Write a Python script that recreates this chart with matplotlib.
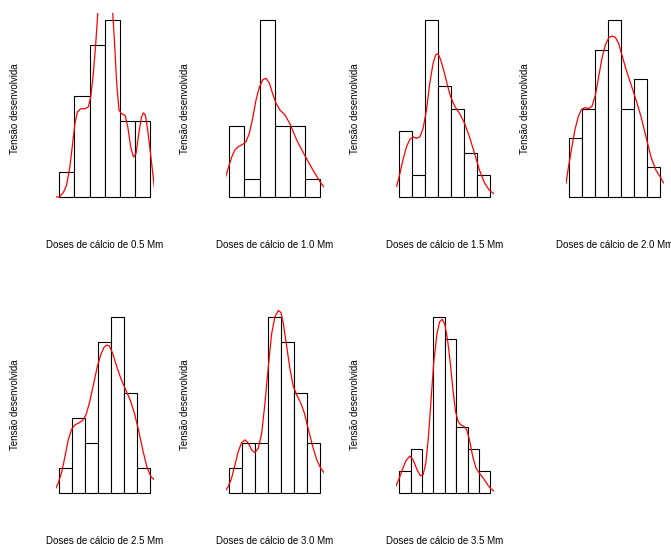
import numpy as np
import matplotlib
matplotlib.use("Agg")
import matplotlib.pyplot as plt

plt.rcParams['font.family'] = ['Liberation Sans', 'DejaVu Sans']

doses = ["0.5", "1.0", "1.5", "2.0", "2.5", "3.0", "3.5"]

# histogram counts per dose (x in bin units, one unit per bin)
counts_05 = [1, 4, 6, 7, 3, 3]
counts_10 = [4, 1, 10, 4, 4, 1]
counts_15 = [3, 1, 8, 5, 4, 2, 1]
counts_20 = [2, 3, 5, 6, 3, 4, 1]
counts_25 = [1, 3, 2, 6, 7, 4, 1]
counts_30 = [1, 2, 2, 7, 6, 4, 2]
counts_35 = [1, 2, 0, 8, 7, 3, 2, 1]

# density curves (same units as the bars)
dx_05 = [-0.3, 0, 0.26, 0.48, 0.70, 0.88, 1.03, 1.19, 1.41, 1.69, 1.91, 2.07, 2.24, 2.40, 2.53,
         3.01, 3.52, 3.63, 3.78, 3.93, 4.11, 4.33, 4.51, 4.70, 4.88, 5.05, 5.23, 5.41, 5.54,
         5.67, 5.82, 5.98, 6.13, 6.26, 6.35]
dy_05 = [0.0, 0.0, 0.16, 0.46, 1.19, 2.11, 2.90, 3.36, 3.49, 3.49, 3.56, 3.95, 4.87, 6.06, 7.25,
         9.75, 7.25, 6.19, 4.48, 3.43, 3.29, 3.23, 2.77, 1.98, 1.58, 1.71, 2.50, 3.16, 3.33,
         3.23, 2.64, 1.84, 1.05, 0.36, 0.10]

dx_10 = [-0.29, -0.07, 0.15, 0.37, 0.59, 0.88, 1.10, 1.32, 1.54, 1.76, 1.98, 2.20, 2.42, 2.64,
         2.86, 3.08, 3.34, 3.67, 4.00, 4.44, 4.99, 5.54, 5.98, 6.26]
dy_10 = [0.98, 1.61, 2.23, 2.65, 2.84, 2.97, 3.12, 3.59, 4.44, 5.48, 6.20, 6.62, 6.71, 6.43,
         5.82, 5.29, 4.91, 4.63, 4.12, 3.21, 2.31, 1.47, 0.85, 0.53]

dx_15 = [-0.20, 0.05, 0.31, 0.56, 0.81, 1.07, 1.32, 1.58, 1.83, 2.09, 2.34, 2.60, 2.80, 2.98,
         3.18, 3.44, 3.69, 3.94, 4.25, 4.63, 5.01, 5.39, 5.78, 6.16, 6.54, 6.92, 7.25]
dy_15 = [0.48, 1.06, 1.74, 2.27, 2.60, 2.72, 2.65, 2.72, 3.10, 3.93, 5.14, 6.05, 6.43, 6.48,
         6.20, 5.67, 5.07, 4.54, 4.11, 3.78, 3.33, 2.72, 1.97, 1.21, 0.64, 0.30, 0.15]

dx_20 = [-0.25, -0.08, 0.18, 0.43, 0.69, 0.94, 1.19, 1.50, 1.75, 2.01, 2.26, 2.51, 2.77, 3.02,
         3.27, 3.53, 3.78, 4.04, 4.37, 4.75, 5.13, 5.51, 5.89, 6.27, 6.65, 6.98, 7.23]
dy_20 = [0.45, 0.96, 1.64, 2.27, 2.72, 2.97, 3.03, 3.00, 3.08, 3.46, 4.08, 4.71, 5.16, 5.39,
         5.46, 5.42, 5.22, 4.82, 4.31, 3.80, 3.29, 2.72, 2.04, 1.36, 0.91, 0.68, 0.48]

dx_25 = [-0.33, -0.08, 0.18, 0.44, 0.69, 0.95, 1.21, 1.46, 1.79, 2.05, 2.31, 2.62, 2.92, 3.18,
         3.44, 3.64, 3.85, 4.10, 4.41, 4.72, 5.05, 5.44, 5.77, 6.08, 6.41, 6.72, 7.03, 7.31]
dy_25 = [0.13, 0.40, 0.82, 1.46, 2.12, 2.54, 2.72, 2.78, 2.89, 3.11, 3.58, 4.30, 5.03, 5.50,
         5.80, 5.89, 5.85, 5.56, 5.03, 4.57, 4.17, 3.71, 3.18, 2.52, 1.72, 1.06, 0.66, 0.53]

dx_30 = [-0.33, -0.08, 0.18, 0.44, 0.69, 0.95, 1.21, 1.46, 1.72, 1.97, 2.23, 2.49, 2.74, 3.00,
         3.26, 3.51, 3.77, 3.97, 4.15, 4.41, 4.67, 4.92, 5.18, 5.49, 5.77, 6.08, 6.41, 6.72,
         7.03, 7.31]
dy_30 = [0.07, 0.26, 0.60, 1.13, 1.66, 2.01, 2.12, 1.99, 1.72, 1.62, 1.79, 2.38, 3.58, 5.03,
         6.36, 7.02, 7.26, 7.18, 6.75, 5.83, 4.90, 4.24, 3.91, 3.58, 3.18, 2.52, 1.85, 1.32,
         0.99, 0.79]

dx_35 = [-0.29, 0.00, 0.29, 0.58, 0.93, 1.22, 1.57, 1.86, 2.09, 2.33, 2.56, 2.79, 3.02, 3.31,
         3.55, 3.78, 4.01, 4.24, 4.48, 4.71, 4.94, 5.17, 5.41, 5.70, 5.93, 6.16, 6.45, 6.74,
         7.03, 7.38, 7.76, 8.05, 8.28]
dy_35 = [0.33, 0.68, 1.10, 1.47, 1.69, 1.51, 1.06, 0.79, 0.83, 1.36, 2.57, 4.24, 5.90, 7.26,
         7.79, 7.90, 7.64, 6.96, 5.90, 4.69, 3.71, 3.25, 3.10, 3.03, 2.87, 2.42, 1.66, 1.13,
         0.91, 0.68, 0.38, 0.20, 0.11]

all_counts = [counts_05, counts_10, counts_15, counts_20, counts_25, counts_30, counts_35]
all_dx = [dx_05, dx_10, dx_15, dx_20, dx_25, dx_30, dx_35]
all_dy = [dy_05, dy_10, dy_15, dy_20, dy_25, dy_30, dy_35]

W, H = 671, 547
fig = plt.figure(figsize=(W / 100, H / 100), dpi=100)

for k, dose in enumerate(doses):
    row, col = divmod(k, 4)
    left = 55.6 + 170 * col
    top = 13 if row == 0 else 310
    bottom = 204 if row == 0 else 500.3
    ax = fig.add_axes([left / W, 1 - bottom / H, 98.5 / W, (bottom - top) / H])

    counts = np.array(all_counts[k])
    n = len(counts)
    edges = np.arange(n)
    ax.bar(edges, counts, width=1, align='edge', facecolor='white',
           edgecolor='black', linewidth=0.8)
    ax.plot(all_dx[k], all_dy[k], color='red', linewidth=0.9)

    ax.set_xlim(-0.04 * n, 1.04 * n)
    ax.set_ylim(-0.04 * counts.max(), 1.04 * counts.max())
    ax.axis('off')

    ax.text(0.5, -41 / (bottom - top), f"Doses de cálcio de {dose} Mm",
            transform=ax.transAxes, ha='center', va='center', fontsize=7)
    ax.text(-40.6 / 98.5, 0.5, "Tensão desenvolvida", rotation=90,
            transform=ax.transAxes, ha='center', va='center', fontsize=7)

fig.savefig("out.png", dpi=100)
